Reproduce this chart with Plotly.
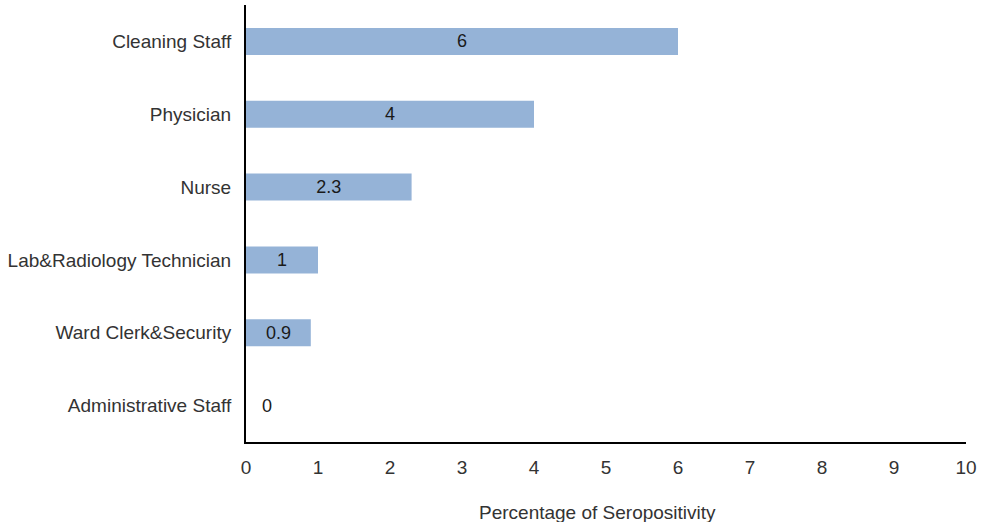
import plotly.graph_objects as go

categories = ["Cleaning Staff", "Physician", "Nurse", "Lab&Radiology Technician",
              "Ward Clerk&Security", "Administrative Staff"]
values = [6, 4, 2.3, 1, 0.9, 0]
x_ticks = [0, 1, 2, 3, 4, 5, 6, 7, 8, 9, 10]
x_title = "Percentage of Seropositivity"

FONT = "Liberation Sans, Arial, sans-serif"

fig = go.Figure()
fig.add_trace(go.Bar(
    x=values,
    y=categories,
    orientation="h",
    width=0.37,
    marker=dict(color="#95B3D7", line=dict(width=0)),
    text=[("" if v == 0 else str(v)) for v in values],
    textposition="inside",
    insidetextanchor="middle",
    textangle=0,
    textfont=dict(family=FONT, size=18, color="#1a1a1a"),
    cliponaxis=False,
))

# label for zero-length bar(s)
for c, v in zip(categories, values):
    if v == 0:
        fig.add_annotation(x=v, y=c, text=str(v), showarrow=False, xanchor="center",
                           xshift=21, font=dict(family=FONT, size=18, color="#1a1a1a"))

# x-axis title
fig.add_annotation(x=0.5, y=0, xref="paper", yref="paper", yshift=-70, xshift=-9,
                   text=x_title, showarrow=False, xanchor="center", yanchor="middle",
                   font=dict(family=FONT, size=19, color="#333333"))

fig.update_layout(
    width=982, height=522,
    margin=dict(l=246, r=16, t=5, b=80),
    paper_bgcolor="white", plot_bgcolor="white",
    showlegend=False,
    font=dict(family=FONT, size=18, color="#333333"),
)
fig.update_xaxes(
    range=[0, 10], tickvals=x_ticks, showgrid=False, zeroline=False,
    showline=True, linecolor="#000000", linewidth=2,
    ticks="", ticklabelstandoff=7, automargin=False,
    tickfont=dict(family=FONT, size=19, color="#333333"),
)
fig.update_yaxes(
    categoryorder="array", categoryarray=categories[::-1],
    range=[-0.5, 5.5], showgrid=False, zeroline=False,
    showline=True, linecolor="#000000", linewidth=2,
    ticks="", ticklabelstandoff=9, automargin=False,
    tickfont=dict(family=FONT, size=19, color="#333333"),
)

fig.write_html("out.html", config={"displayModeBar": False},
               post_script="document.body.style.margin='0';document.body.style.overflow='hidden';")
